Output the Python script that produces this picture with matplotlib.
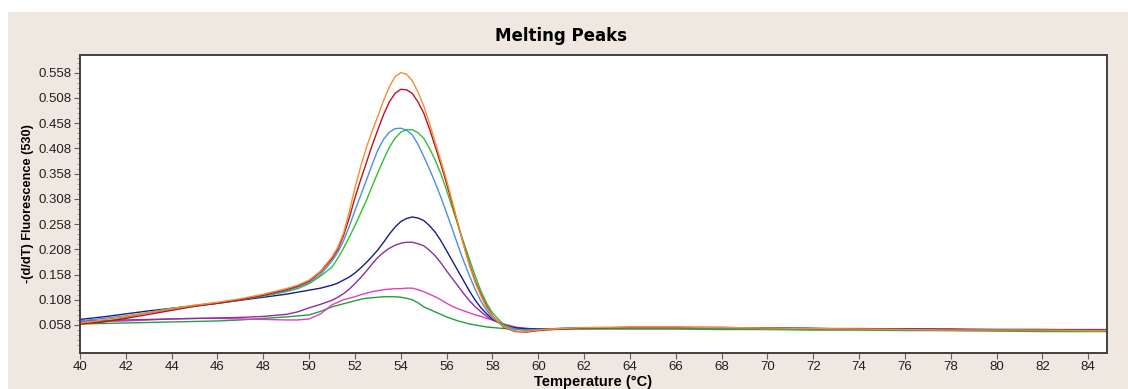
import numpy as np
import matplotlib
matplotlib.use("Agg")
import matplotlib.pyplot as plt
from matplotlib.patches import Rectangle
from matplotlib.ticker import FixedLocator

plt.rcParams['font.family'] = ['Liberation Sans', 'DejaVu Sans']

# temperature grid (denser around the peak)
temps = [40, 41, 42, 43, 44, 45, 46, 47, 48, 49, 49.5, 50, 50.5,
         51, 51.25, 51.5, 51.75, 52, 52.25, 52.5, 52.75, 53, 53.25, 53.5, 53.75,
         54, 54.25, 54.5, 54.75, 55, 55.25, 55.5, 55.75, 56, 56.25, 56.5, 56.75,
         57, 57.25, 57.5, 57.75, 58,
         58.5, 59, 59.5, 60,
         61, 62, 64, 66, 68, 70, 72, 74, 76, 78, 80, 82, 84, 85]

orange = [0.062, 0.068, 0.075, 0.083, 0.090, 0.097, 0.103, 0.110, 0.119, 0.130, 0.137, 0.147, 0.165,
          0.193, 0.212, 0.240, 0.282, 0.330, 0.372, 0.410, 0.442, 0.472, 0.503, 0.530, 0.550,
          0.558, 0.555, 0.542, 0.520, 0.492, 0.458, 0.420, 0.383, 0.345, 0.302, 0.258, 0.215,
          0.175, 0.142, 0.115, 0.092, 0.075,
          0.054, 0.046, 0.045, 0.048,
          0.051, 0.053, 0.054, 0.054, 0.053, 0.052, 0.051, 0.050, 0.049, 0.048, 0.048, 0.048, 0.047, 0.047]

red = [0.060, 0.064, 0.071, 0.079, 0.087, 0.095, 0.101, 0.108, 0.117, 0.128, 0.135, 0.145, 0.163,
       0.190, 0.208, 0.235, 0.270, 0.310, 0.346, 0.380, 0.414, 0.445, 0.475, 0.500, 0.517,
       0.525, 0.524, 0.517, 0.500, 0.478, 0.447, 0.412, 0.376, 0.338, 0.298, 0.257, 0.216,
       0.178, 0.145, 0.118, 0.095, 0.076,
       0.053, 0.045, 0.044, 0.047,
       0.050, 0.052, 0.053, 0.053, 0.053, 0.052, 0.051, 0.050, 0.049, 0.049, 0.048, 0.048, 0.048, 0.048]

lightblue = [0.066, 0.071, 0.076, 0.082, 0.089, 0.095, 0.101, 0.108, 0.116, 0.126, 0.133, 0.142, 0.158,
             0.185, 0.202, 0.225, 0.253, 0.285, 0.315, 0.345, 0.376, 0.405, 0.426, 0.440, 0.447,
             0.448, 0.444, 0.435, 0.416, 0.392, 0.367, 0.340, 0.311, 0.280, 0.248, 0.215, 0.184,
             0.155, 0.128, 0.105, 0.087, 0.072,
             0.055, 0.049, 0.048, 0.049,
             0.051, 0.052, 0.053, 0.053, 0.052, 0.051, 0.051, 0.050, 0.049, 0.048, 0.048, 0.047, 0.047, 0.047]

green = [0.060, 0.064, 0.073, 0.083, 0.091, 0.097, 0.102, 0.108, 0.115, 0.124, 0.130, 0.140, 0.155,
         0.173, 0.190, 0.210, 0.232, 0.255, 0.280, 0.305, 0.333, 0.360, 0.386, 0.410, 0.428,
         0.440, 0.445, 0.445, 0.439, 0.428, 0.408, 0.385, 0.357, 0.325, 0.290, 0.255, 0.221,
         0.188, 0.155, 0.125, 0.101, 0.082,
         0.058, 0.050, 0.048, 0.049,
         0.050, 0.051, 0.052, 0.052, 0.051, 0.050, 0.050, 0.049, 0.048, 0.047, 0.047, 0.046, 0.046, 0.046]

navy = [0.069, 0.074, 0.080, 0.086, 0.091, 0.096, 0.101, 0.107, 0.113, 0.119, 0.123, 0.127, 0.131,
        0.137, 0.141, 0.147, 0.153, 0.161, 0.171, 0.182, 0.194, 0.207, 0.222, 0.238, 0.252,
        0.263, 0.269, 0.272, 0.270, 0.265, 0.255, 0.242, 0.225, 0.205, 0.185, 0.165, 0.145,
        0.125, 0.107, 0.092, 0.080, 0.070,
        0.058, 0.052, 0.050, 0.050,
        0.051, 0.052, 0.053, 0.053, 0.052, 0.052, 0.051, 0.050, 0.050, 0.049, 0.049, 0.049, 0.048, 0.048]

purple = [0.066, 0.067, 0.068, 0.069, 0.070, 0.071, 0.072, 0.073, 0.075, 0.079, 0.084, 0.092, 0.099,
          0.107, 0.113, 0.120, 0.129, 0.140, 0.152, 0.165, 0.179, 0.192, 0.202, 0.210, 0.216,
          0.220, 0.222, 0.222, 0.219, 0.215, 0.206, 0.195, 0.181, 0.165, 0.150, 0.135, 0.120,
          0.106, 0.094, 0.084, 0.075, 0.068,
          0.058, 0.053, 0.051, 0.050,
          0.051, 0.052, 0.053, 0.053, 0.053, 0.052, 0.051, 0.051, 0.050, 0.050, 0.049, 0.049, 0.049, 0.049]

pink = [0.064, 0.065, 0.066, 0.068, 0.070, 0.071, 0.071, 0.070, 0.069, 0.068, 0.068, 0.070, 0.080,
        0.098, 0.103, 0.108, 0.111, 0.114, 0.118, 0.121, 0.124, 0.126, 0.128, 0.129, 0.130,
        0.130, 0.131, 0.131, 0.128, 0.124, 0.119, 0.114, 0.108, 0.101, 0.095, 0.090, 0.086,
        0.082, 0.078, 0.075, 0.071, 0.068,
        0.060, 0.054, 0.051, 0.050,
        0.050, 0.051, 0.052, 0.052, 0.051, 0.051, 0.050, 0.050, 0.049, 0.049, 0.048, 0.048, 0.048, 0.048]

green2 = [0.060, 0.061, 0.062, 0.063, 0.064, 0.065, 0.066, 0.068, 0.071, 0.074, 0.076, 0.078, 0.085,
          0.094, 0.097, 0.100, 0.103, 0.106, 0.109, 0.111, 0.112, 0.113, 0.114, 0.114, 0.114,
          0.113, 0.111, 0.108, 0.102, 0.094, 0.089, 0.084, 0.079, 0.074, 0.070, 0.066, 0.063,
          0.060, 0.058, 0.056, 0.054, 0.053,
          0.051, 0.050, 0.049, 0.049,
          0.050, 0.050, 0.050, 0.050, 0.049, 0.049, 0.048, 0.048, 0.047, 0.047, 0.046, 0.045, 0.045, 0.045]

series = [(green2, '#20a040'), (pink, '#e040c0'), (purple, '#8a2ea0'), (navy, '#1a1a90'),
          (green, '#30c030'), (lightblue, '#4a90e0'), (red, '#c01020'), (orange, '#f09030')]

ytick_vals = [0.058, 0.108, 0.158, 0.208, 0.258, 0.308, 0.358, 0.408, 0.458, 0.508, 0.558]
xtick_vals = list(range(40, 86, 2))

fig = plt.figure(figsize=(11.28, 3.89), dpi=100, facecolor='white')
# beige panel behind the chart
fig.patches.append(Rectangle((8 / 1128, 0), 1 - 8 / 1128, 1 - 12 / 389,
                             transform=fig.transFigure, facecolor='#efe8e0',
                             edgecolor='none', zorder=-10))

ax = fig.add_axes([80 / 1128, 1 - 353 / 389, (1107 - 80) / 1128, (353 - 55) / 389])
ax.set_zorder(5)
ax.set_facecolor('white')
for vals, col in series:
    ax.plot(temps, vals, color=col, lw=1.0)

ax.set_xlim(40, 84.82)
ax.set_ylim(0.0025, 0.593)
ax.xaxis.set_major_locator(FixedLocator(xtick_vals))
ax.yaxis.set_major_locator(FixedLocator(ytick_vals))
ax.yaxis.set_minor_locator(FixedLocator(np.round(np.arange(0.018, 0.59, 0.01), 3)))
ax.set_yticklabels([f"{v:.3f}" for v in ytick_vals])
ax.tick_params(axis='both', which='major', labelsize=9.5, length=4, color='#606060',
               labelcolor='#202020', pad=2)
ax.tick_params(axis='y', which='minor', length=2, color='#909090')
for s in ax.spines.values():
    s.set_color('#404040')
    s.set_linewidth(1.4)

fig.text(0.497, 1 - 36 / 389, 'Melting Peaks', ha='center', va='center',
         fontsize=12, fontweight='bold', family='DejaVu Sans')
ax.set_xlabel('Temperature (\u00b0C)', fontsize=10.5, fontweight='bold', labelpad=1)
ax.set_ylabel('-(d/dT) Fluorescence (530)', fontsize=9.2, fontweight='bold', labelpad=3)

fig.savefig('out.png', dpi=100, facecolor=fig.get_facecolor())
